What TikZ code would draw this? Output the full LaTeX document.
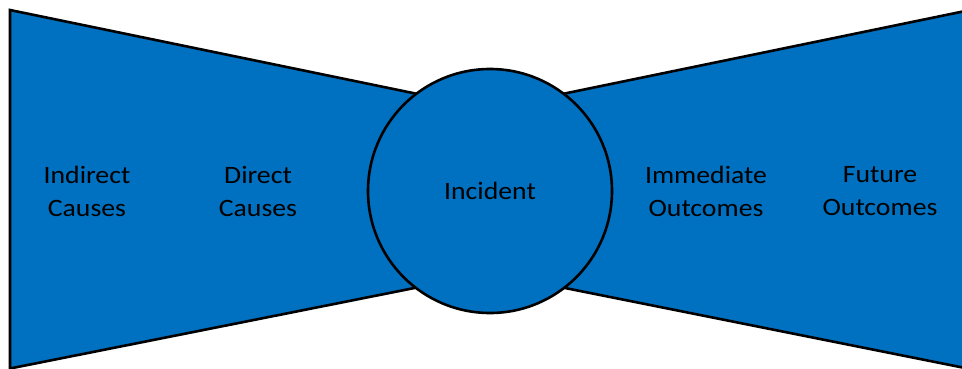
\documentclass[tikz,border=0pt]{standalone}
\usepackage{fontspec}
\setmainfont{Carlito}[FakeStretch=1.11]
\definecolor{bowblue}{RGB}{0,112,192}
\begin{document}
\begin{tikzpicture}[x=1pt,y=-1pt,
  wing/.style={fill=bowblue,draw=black,line width=2.6pt,line join=miter},
  lbl/.style={align=center,font=\fontsize{25}{33}\selectfont,text=black}]
\useasboundingbox (0,0) rectangle (962,368);
\fill[white] (0,0) rectangle (962,368);
\draw[wing] (10,10) -- (510,113) -- (510,269) -- (10,368.5) -- cycle;
\draw[wing] (975,9) -- (470,113) -- (470,269) -- (975,370) -- cycle;
\node[circle,minimum size=244pt,inner sep=0pt,fill=bowblue,draw=black,line width=2.6pt] (inc) at (490,191) {};
\node[lbl] (incl) at (inc.center) {Incident};
\node[lbl] (ind) at (87,191) {Indirect\\Causes};
\node[lbl] (dir) at (258,191) {Direct\\Causes};
\node[lbl] (imm) at (706,191) {Immediate\\Outcomes};
\node[lbl] (fut) at (880,191) {Future\\Outcomes};
\end{tikzpicture}
\end{document}
